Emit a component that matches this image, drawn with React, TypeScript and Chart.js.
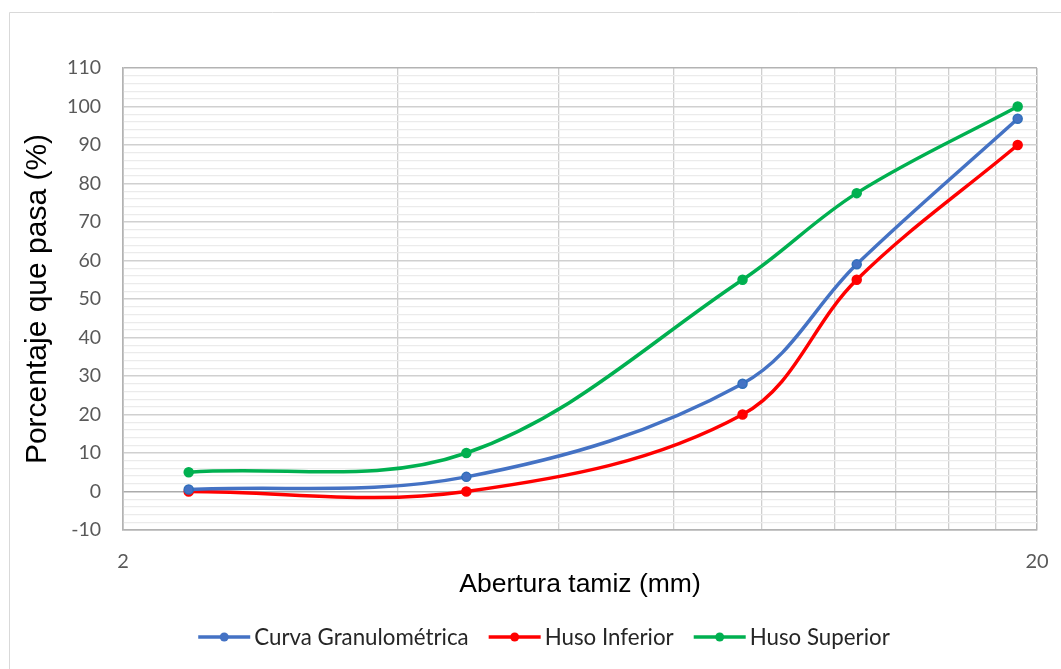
import { useEffect, useRef } from 'react';
import { Chart, registerables } from 'chart.js';

Chart.register(...registerables);

// Sieve openings (mm)
const sieveSizes = [2.36, 4.75, 9.525, 12.7, 19.05];
// Percent passing
const curvaGranulometrica = [0.5, 3.8, 28, 59, 96.8];
const husoInferior = [0, 0, 20, 55, 90];
const husoSuperior = [5, 10, 55, 77.5, 100];

const seriesNames = ['Curva Granulométrica', 'Huso Inferior', 'Huso Superior'];
const seriesColors = ['#4472C4', '#FF0000', '#00B050'];
const markerBorders = ['#2F6EBA', '#FF0000', '#00B050'];

const xGridValues = [2, 4, 6, 8, 10, 12, 14, 16, 18, 20];
const xLabeledValues = [2, 20];
const yMin = -10;
const yMax = 110;
const yMinorStep = 2;
const yMajorStep = 10;

const xTitle = 'Abertura tamiz (mm)';
const yTitle = 'Porcentaje que pasa (%)';

const toPoints = (ys: number[]) => sieveSizes.map((x, i) => ({ x, y: ys[i] }));

const frameColor = '#B3B3B3';

const backgroundPlugin = {
  id: 'bgBorder',
  beforeDraw(chart: any) {
    const { ctx, width, height } = chart;
    ctx.save();
    ctx.fillStyle = '#ffffff';
    ctx.fillRect(0, 0, width, height);
    ctx.strokeStyle = '#D9D9D9';
    ctx.lineWidth = 1;
    ctx.beginPath();
    ctx.moveTo(9.5, height);
    ctx.lineTo(9.5, 12.5);
    ctx.lineTo(width, 12.5);
    ctx.stroke();
    ctx.restore();
  },
};

const legendPlugin = {
  id: 'customLegend',
  afterDraw(chart: any) {
    const { ctx } = chart;
    ctx.save();
    ctx.font = '22.3px Lato';
    ctx.textBaseline = 'middle';
    ctx.textAlign = 'left';
    const lineW = 52;
    const gap = 4;
    const itemGap = 20;
    const items = chart.data.datasets.map((ds: any) => ({
      label: ds.label,
      color: ds.borderColor,
      mColor: ds.pointBackgroundColor,
      w: lineW + gap + ctx.measureText(ds.label).width,
    }));
    const total = items.reduce((s: number, it: any) => s + it.w, 0) + itemGap * (items.length - 1);
    let x = 544 - total / 2;
    const y = 637;
    for (const it of items) {
      ctx.strokeStyle = it.color;
      ctx.lineWidth = 3.5;
      ctx.beginPath();
      ctx.moveTo(x, y);
      ctx.lineTo(x + lineW, y);
      ctx.stroke();
      ctx.fillStyle = it.mColor;
      ctx.beginPath();
      ctx.arc(x + lineW / 2, y, 4.5, 0, Math.PI * 2);
      ctx.fill();
      ctx.fillStyle = '#262626';
      ctx.fillText(it.label, x + lineW + gap, y + 1);
      x += it.w + itemGap;
    }
    ctx.restore();
  },
};

export default function App() {
  const canvasRef = useRef<HTMLCanvasElement | null>(null);

  useEffect(() => {
    if (!canvasRef.current) return;
    const seriesData = [curvaGranulometrica, husoInferior, husoSuperior];
    const chart = new Chart(canvasRef.current, {
      type: 'line',
      data: {
        datasets: seriesData.map((ys, i) => ({
          label: seriesNames[i],
          data: toPoints(ys),
          borderColor: seriesColors[i],
          backgroundColor: seriesColors[i],
          pointBackgroundColor: seriesColors[i],
          pointBorderColor: markerBorders[i],
          pointBorderWidth: 1.5,
          pointRadius: 4.5,
          borderWidth: 3.5,
          tension: 0.36,
          fill: false,
        })),
      },
      options: {
        animation: false,
        responsive: false,
        maintainAspectRatio: false,
        layout: { padding: { left: 0, top: 68, right: 24, bottom: 59 } },
        plugins: {
          legend: { display: false },
          tooltip: { enabled: false },
        },
        scales: {
          x: {
            type: 'logarithmic',
            min: 2,
            max: 20,
            afterBuildTicks: (scale: any) => {
              scale.ticks = xGridValues.map((v) => ({ value: v }));
            },
            afterFit: (scale: any) => {
              scale.height = 80;
              scale.paddingLeft = 10;
              scale.paddingRight = 10;
            },
            ticks: {
              autoSkip: false,
              maxRotation: 0,
              padding: 20,
              color: '#595959',
              font: { family: 'Lato', size: 20 },
              callback: (v: any) => (xLabeledValues.includes(Number(v)) ? String(v) : ''),
            },
            grid: {
              drawTicks: false,
              color: (c: any) =>
                c.tick && (c.tick.value === 2 || c.tick.value === 20) ? frameColor : '#CFCFCF',
              lineWidth: (c: any) =>
                c.tick && (c.tick.value === 2 || c.tick.value === 20) ? 1.5 : 1.3,
            },
            border: { display: true, color: frameColor, width: 1.5 },
            title: {
              display: true,
              text: xTitle,
              color: '#000000',
              font: { family: 'Liberation Sans', size: 26.5 },
              padding: { top: 0, bottom: 9 },
            },
          },
          y: {
            type: 'linear',
            min: yMin,
            max: yMax,
            afterBuildTicks: (scale: any) => {
              const t: any[] = [];
              for (let v = yMin; v <= yMax; v += yMinorStep) t.push({ value: v });
              scale.ticks = t;
            },
            afterFit: (scale: any) => {
              scale.width = 123;
            },
            ticks: {
              autoSkip: false,
              padding: 22,
              color: '#595959',
              font: { family: 'Lato', size: 19.5 },
              callback: (v: any) => (Number(v) % yMajorStep === 0 ? String(v) : ''),
            },
            grid: {
              drawTicks: false,
              color: (c: any) => {
                const v = c.tick ? c.tick.value : 1;
                if (v === yMin || v === yMax) return frameColor;
                if (v === 0) return '#ABABAB';
                return v % yMajorStep === 0 ? '#D0D0D0' : '#EBEBEB';
              },
              lineWidth: (c: any) => {
                const v = c.tick ? c.tick.value : 1;
                if (v === yMin || v === yMax || v === 0) return 1.5;
                return v % yMajorStep === 0 ? 1.5 : 1.2;
              },
            },
            border: { display: true, color: frameColor, width: 1.5 },
            title: {
              display: true,
              text: yTitle,
              color: '#000000',
              font: { family: 'Liberation Sans', size: 30 },
              padding: { top: 20, bottom: 0 },
            },
          },
        },
      },
      plugins: [backgroundPlugin, legendPlugin],
    } as any);
    return () => chart.destroy();
  }, []);

  return (
    <div style={{ position: 'fixed', left: 0, top: 0, width: 1061, height: 669, background: '#fff' }}>
      <canvas ref={canvasRef} width={1061} height={669} style={{ display: 'block', width: 1061, height: 669 }} />
    </div>
  );
}
